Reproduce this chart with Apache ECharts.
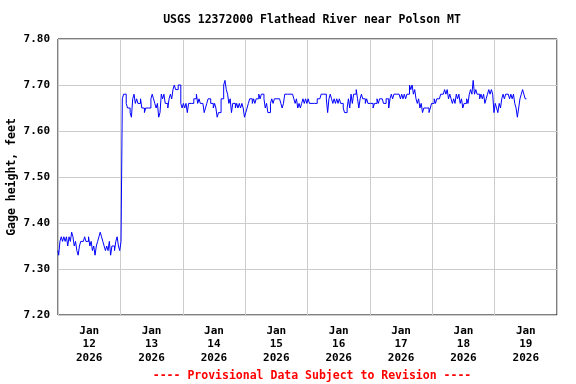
<!DOCTYPE html>
<html>
<head>
<meta charset="utf-8">
<script src="https://cdn.jsdelivr.net/npm/echarts@6/dist/echarts.min.js"></script>
<style>html,body{margin:0;padding:0;background:#fff;}#chart{width:576px;height:384px;}</style>
</head>
<body>
<div id="chart"></div>
<script>
// Gage height readings every 30 minutes, stored as hundredths of a foot above 7.00 ft.
// Series starts Jan 12 2026 00:00.
const startLabel = 'Jan 12 2026 00:00';
const stepHours = 0.5;
const jan12 = [34,33,36,37,36,37,36,37,35,37,36,38,37,35,36,34,33,35,36,36,36,37,36,36,37,35,36,34,35,33,35,36,37,38,37,36,35,34,35,34,36,33,35,35,34,36,37,35];
const jan13 = [34,36,67,68,68,66,65,65,64,63,67,68,66,67,66,66,67,65,65,64,65,65,65,65,67,68,67,66,65,66,63,64,68,67,68,66,66,65,67,68,67,69,70,69,69,70,70,66];
const jan14 = [65,66,65,66,64,66,66,66,66,67,67,68,66,67,66,66,66,64,65,66,67,67,66,66,65,66,65,63,64,64,67,67,70,71,69,68,66,67,64,66,66,65,66,65,66,65,66,65];
const jan15 = [63,64,65,66,67,67,66,67,66,67,67,68,67,68,68,67,65,66,64,64,66,67,66,67,67,67,67,67,66,65,66,68,68,68,68,68,68,68,67,66,67,65,66,65,66,67,66,67];
const jan16 = [66,67,66,66,66,66,66,66,67,67,67,68,68,68,68,67,64,67,68,67,66,67,66,67,66,67,66,66,65,64,64,65,67,65,68,66,68,68,69,67,65,67,68,67,67,66,67,66];
const jan17 = [66,66,66,65,66,66,67,66,67,67,67,66,66,67,67,65,67,68,67,68,68,68,68,68,67,68,67,68,67,68,68,70,69,70,68,69,67,66,67,65,66,64,65,65,65,65,64,65];
const jan18 = [66,66,67,66,67,67,67,68,68,68,69,68,69,67,68,67,66,67,66,68,67,68,66,67,65,66,66,67,66,68,69,68,71,68,69,68,68,67,68,67,68,66,67,68,69,68,69,68];
const jan19 = [64,66,65,64,66,65,67,68,67,68,68,68,67,68,67,68,66,65,63,65,67,68,69,68,67,67];

const dayLabels = ['Jan\n12\n2026','Jan\n13\n2026','Jan\n14\n2026','Jan\n15\n2026','Jan\n16\n2026','Jan\n17\n2026','Jan\n18\n2026','Jan\n19\n2026'];
const yTicks = [7.20, 7.30, 7.40, 7.50, 7.60, 7.70, 7.80];

const hundredths = [].concat(jan12, jan13, jan14, jan15, jan16, jan17, jan18, jan19);
const seriesData = hundredths.map((h, i) => [i * stepHours, +(7 + h / 100).toFixed(2)]);

const FONT = '"DejaVu Sans Mono", "Liberation Mono", monospace';
const chart = echarts.init(document.getElementById('chart'), null, {renderer: 'canvas'});
chart.setOption({
  animation: false,
  backgroundColor: '#ffffff',
  title: [{
    text: 'USGS 12372000 Flathead River near Polson MT',
    left: 307, top: 9, textAlign: 'center',
    textStyle: {fontFamily: FONT, fontSize: 11.5, fontWeight: 'bold', color: '#000'}
  }, {
    text: '---- Provisional Data Subject to Revision ----',
    left: 307, top: 365, textAlign: 'center',
    textStyle: {fontFamily: FONT, fontSize: 11.5, fontWeight: 'bold', color: '#ff0000'}
  }],
  grid: {left: 58, right: 19, top: 39, bottom: 69, show: true, borderColor: '#000', borderWidth: 1,
    backgroundColor: 'transparent', containLabel: false, outerBoundsMode: 'none'},
  xAxis: [{
    type: 'value', min: 0, max: 192, interval: 24,
    axisLine: {show: false}, axisTick: {show: false}, axisLabel: {show: false},
    splitLine: {show: true, lineStyle: {color: '#cccccc', width: 1}}
  }, {
    type: 'value', min: 0, max: 192, interval: 12, position: 'bottom',
    axisLine: {show: false}, axisTick: {show: false}, splitLine: {show: false},
    axisLabel: {
      show: true, margin: 9, lineHeight: 13.5,
      fontFamily: FONT, fontSize: 11, fontWeight: 'bold', color: '#000',
      formatter: v => (v % 24 === 12) ? dayLabels[(v - 12) / 24] : ''
    }
  }],
  yAxis: {
    type: 'value', min: 7.2, max: 7.8, interval: 0.1,
    name: 'Gage height, feet', nameLocation: 'middle', nameGap: 40, nameRotate: 90,
    nameMoveOverlap: false,
    nameTextStyle: {fontFamily: FONT, fontSize: 11.5, fontWeight: 'bold', color: '#000'},
    axisLine: {show: false}, axisTick: {show: false},
    axisLabel: {margin: 8, fontFamily: FONT, fontSize: 11, fontWeight: 'bold', color: '#000',
      formatter: v => v.toFixed(2)},
    splitLine: {show: true, lineStyle: {color: '#cccccc', width: 1}}
  },
  series: [{
    type: 'line', xAxisIndex: 0, data: seriesData, showSymbol: false, symbol: 'none',
    step: 'middle',
    lineStyle: {color: '#0000ff', width: 1}, silent: true
  }]
});
</script>
</body>
</html>
